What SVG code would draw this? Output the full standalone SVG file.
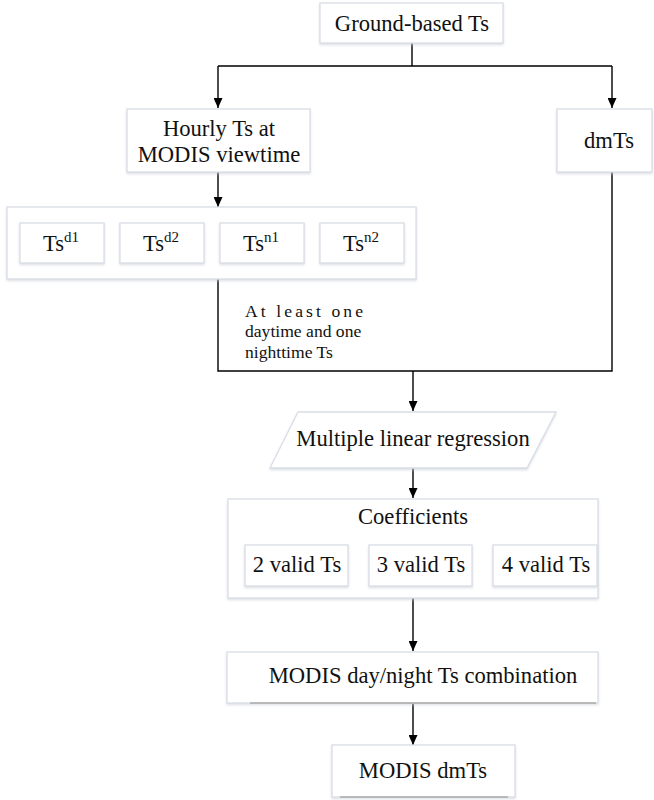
<svg xmlns="http://www.w3.org/2000/svg" width="654" height="800" viewBox="0 0 654 800" font-family="'Liberation Serif','Times New Roman',serif">
<style>
.box{fill:#fff;stroke:#d9dee5;stroke-width:1.3;filter:url(#sh)}
.t{font-family:'Liberation Serif','Times New Roman',serif;font-size:22.6px;fill:#111;text-anchor:middle}
.s{font-family:'Liberation Serif','Times New Roman',serif;font-size:17.6px;fill:#111}
.ln{fill:none;stroke:#000;stroke-width:1.4}
</style>
<defs>
<filter id="sh" x="-10%" y="-10%" width="120%" height="130%"><feDropShadow dx="0" dy="1.5" stdDeviation="1.2" flood-color="#c8ced6" flood-opacity="0.6"/></filter>
<marker id="ar" markerWidth="10" markerHeight="9" refX="10" refY="4.5" orient="auto" markerUnits="userSpaceOnUse" viewBox="0 0 10 9"><path d="M0,0L10,4.5L0,9Z" fill="#000"/></marker>
</defs>
<g id="connectors">
<path class="ln" d="M412,43V66M218,66H612"/>
<path class="ln" d="M218,66V108" marker-end="url(#ar)"/>
<path class="ln" d="M612,66V108" marker-end="url(#ar)"/>
<path class="ln" d="M218,172V207" marker-end="url(#ar)"/>
<path class="ln" d="M218,279V371H612V172"/>
<path class="ln" d="M413,371V411" marker-end="url(#ar)"/>
<path class="ln" d="M413,468V498" marker-end="url(#ar)"/>
<path class="ln" d="M413,598V651" marker-end="url(#ar)"/>
<path class="ln" d="M413,703V745" marker-end="url(#ar)"/>
<text class="s" x="245" y="317" textLength="118" lengthAdjust="spacing">At least one</text>
<text class="s" x="245" y="337">daytime and one</text>
<text class="s" x="245" y="358">nighttime Ts</text>
</g>
<g id="ground"><rect class="box" x="320" y="3" width="183" height="40"/><text class="t" x="412" y="31">Ground-based Ts</text></g>
<g id="hourly"><rect class="box" x="127" y="109" width="183" height="63"/><text class="t" x="219" y="136">Hourly Ts at</text><text class="t" x="219" y="162">MODIS viewtime</text></g>
<g id="dmts"><rect class="box" x="557" y="109" width="95" height="63"/><text class="t" x="609" y="148">dmTs</text></g>
<g id="tsgroup"><rect class="box" x="7" y="207" width="409" height="72"/>
<g id="tsd1"><rect class="box" x="20" y="223" width="84" height="40"/><text class="t" x="61" y="251">Ts<tspan font-size="15" dy="-9">d1</tspan></text></g>
<g id="tsd2"><rect class="box" x="120" y="223" width="84" height="40"/><text class="t" x="161" y="251">Ts<tspan font-size="15" dy="-9">d2</tspan></text></g>
<g id="tsn1"><rect class="box" x="220" y="223" width="84" height="40"/><text class="t" x="261" y="251">Ts<tspan font-size="15" dy="-9">n1</tspan></text></g>
<g id="tsn2"><rect class="box" x="320" y="223" width="84" height="40"/><text class="t" x="361" y="251">Ts<tspan font-size="15" dy="-9">n2</tspan></text></g>
</g>
<g id="mlr"><path class="box" d="M298,412H556L527,468H270Z"/><text class="t" x="413" y="446">Multiple linear regression</text></g>
<g id="coef"><rect class="box" x="228" y="499" width="370" height="99"/><text class="t" x="413" y="524">Coefficients</text>
<g id="v2"><rect class="box" x="245" y="545" width="103" height="41"/><text class="t" x="297" y="572">2 valid Ts</text></g>
<g id="v3"><rect class="box" x="369" y="545" width="103" height="41"/><text class="t" x="421" y="572">3 valid Ts</text></g>
<g id="v4"><rect class="box" x="493" y="545" width="104" height="41"/><text class="t" x="546" y="572">4 valid Ts</text></g>
</g>
<g id="comb"><rect class="box" x="227" y="652" width="371" height="51"/><path d="M250,703H596" stroke="#aaa" stroke-width="1.5"/><text class="t" x="423" y="683">MODIS day/night Ts combination</text></g>
<g id="final"><rect class="box" x="332" y="745" width="183" height="52"/><path d="M340,797H508" stroke="#aaa" stroke-width="1.5"/><text class="t" x="423" y="778">MODIS dmTs</text></g>
</svg>
